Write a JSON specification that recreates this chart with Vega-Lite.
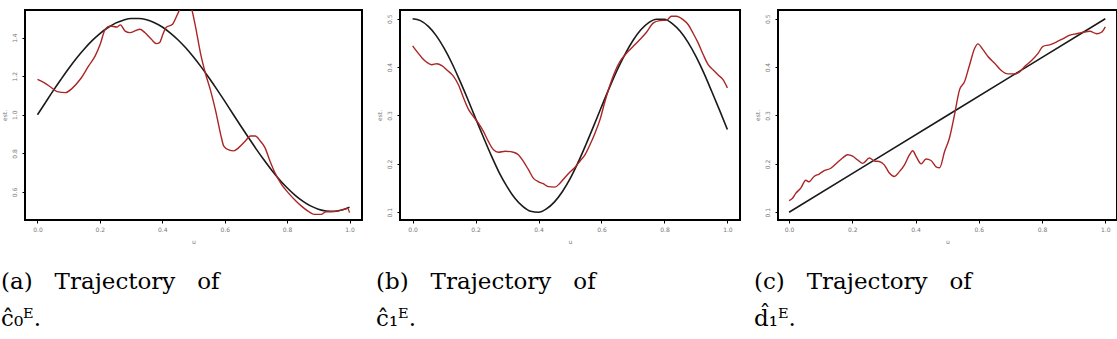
{
"$schema": "https://vega.github.io/schema/vega-lite/v6.json",
"padding": {"top": 9, "left": 0, "right": 0, "bottom": 0},
"background": "#ffffff",
"spacing": 12,
"datasets": {
"a_true": [{"u":0,"v":1.000},{"u":0.025,"v":1.062},{"u":0.05,"v":1.124},{"u":0.075,"v":1.183},{"u":0.1,"v":1.240},{"u":0.125,"v":1.293},{"u":0.15,"v":1.341},{"u":0.175,"v":1.384},{"u":0.2,"v":1.421},{"u":0.225,"v":1.451},{"u":0.25,"v":1.475},{"u":0.275,"v":1.490},{"u":0.3,"v":1.499},{"u":0.325,"v":1.499},{"u":0.35,"v":1.492},{"u":0.375,"v":1.477},{"u":0.4,"v":1.455},{"u":0.425,"v":1.425},{"u":0.45,"v":1.389},{"u":0.475,"v":1.347},{"u":0.5,"v":1.299},{"u":0.525,"v":1.247},{"u":0.55,"v":1.191},{"u":0.575,"v":1.132},{"u":0.6,"v":1.071},{"u":0.625,"v":1.008},{"u":0.65,"v":0.946},{"u":0.675,"v":0.885},{"u":0.7,"v":0.825},{"u":0.725,"v":0.768},{"u":0.75,"v":0.714},{"u":0.775,"v":0.665},{"u":0.8,"v":0.622},{"u":0.825,"v":0.584},{"u":0.85,"v":0.553},{"u":0.875,"v":0.528},{"u":0.9,"v":0.511},{"u":0.925,"v":0.502},{"u":0.95,"v":0.500},{"u":0.975,"v":0.507},{"u":1,"v":0.521}],
"a_est": [{"u":0,"v":1.184},{"u":0.021,"v":1.167},{"u":0.042,"v":1.144},{"u":0.063,"v":1.12},{"u":0.09,"v":1.115},{"u":0.111,"v":1.137},{"u":0.137,"v":1.184},{"u":0.164,"v":1.253},{"u":0.185,"v":1.305},{"u":0.201,"v":1.365},{"u":0.217,"v":1.443},{"u":0.233,"v":1.46},{"u":0.254,"v":1.455},{"u":0.266,"v":1.466},{"u":0.28,"v":1.435},{"u":0.296,"v":1.426},{"u":0.317,"v":1.438},{"u":0.328,"v":1.443},{"u":0.344,"v":1.426},{"u":0.365,"v":1.391},{"u":0.381,"v":1.369},{"u":0.391,"v":1.374},{"u":0.402,"v":1.417},{"u":0.412,"v":1.452},{"u":0.433,"v":1.469},{"u":0.444,"v":1.504},{"u":0.46,"v":1.56},{"u":0.475,"v":1.6},{"u":0.488,"v":1.58},{"u":0.495,"v":1.543},{"u":0.507,"v":1.452},{"u":0.523,"v":1.314},{"u":0.539,"v":1.21},{"u":0.555,"v":1.124},{"u":0.571,"v":1.02},{"u":0.587,"v":0.899},{"u":0.597,"v":0.838},{"u":0.613,"v":0.818},{"u":0.629,"v":0.813},{"u":0.645,"v":0.83},{"u":0.666,"v":0.864},{"u":0.682,"v":0.89},{"u":0.698,"v":0.89},{"u":0.714,"v":0.864},{"u":0.729,"v":0.83},{"u":0.745,"v":0.761},{"u":0.761,"v":0.7},{"u":0.782,"v":0.64},{"u":0.803,"v":0.597},{"u":0.825,"v":0.559},{"u":0.846,"v":0.527},{"u":0.867,"v":0.501},{"u":0.888,"v":0.484},{"u":0.909,"v":0.484},{"u":0.925,"v":0.498},{"u":0.941,"v":0.498},{"u":0.962,"v":0.501},{"u":0.983,"v":0.51},{"u":0.994,"v":0.515},{"u":1,"v":0.493}],
"b_true": [{"u":0,"v":0.500},{"u":0.025,"v":0.496},{"u":0.05,"v":0.484},{"u":0.075,"v":0.465},{"u":0.1,"v":0.439},{"u":0.125,"v":0.408},{"u":0.15,"v":0.372},{"u":0.175,"v":0.334},{"u":0.2,"v":0.294},{"u":0.225,"v":0.255},{"u":0.25,"v":0.217},{"u":0.275,"v":0.182},{"u":0.3,"v":0.153},{"u":0.325,"v":0.129},{"u":0.35,"v":0.112},{"u":0.375,"v":0.102},{"u":0.4,"v":0.100},{"u":0.425,"v":0.107},{"u":0.45,"v":0.121},{"u":0.475,"v":0.142},{"u":0.5,"v":0.169},{"u":0.525,"v":0.202},{"u":0.55,"v":0.239},{"u":0.575,"v":0.278},{"u":0.6,"v":0.318},{"u":0.625,"v":0.357},{"u":0.65,"v":0.394},{"u":0.675,"v":0.427},{"u":0.7,"v":0.455},{"u":0.725,"v":0.477},{"u":0.75,"v":0.492},{"u":0.775,"v":0.499},{"u":0.8,"v":0.499},{"u":0.825,"v":0.490},{"u":0.85,"v":0.474},{"u":0.875,"v":0.451},{"u":0.9,"v":0.422},{"u":0.925,"v":0.388},{"u":0.95,"v":0.350},{"u":0.975,"v":0.311},{"u":1,"v":0.271}],
"b_est": [{"u":0,"v":0.444},{"u":0.014,"v":0.432},{"u":0.03,"v":0.419},{"u":0.045,"v":0.41},{"u":0.061,"v":0.405},{"u":0.077,"v":0.407},{"u":0.093,"v":0.403},{"u":0.109,"v":0.394},{"u":0.13,"v":0.381},{"u":0.146,"v":0.363},{"u":0.162,"v":0.336},{"u":0.178,"v":0.312},{"u":0.193,"v":0.298},{"u":0.209,"v":0.284},{"u":0.225,"v":0.267},{"u":0.241,"v":0.246},{"u":0.257,"v":0.229},{"u":0.273,"v":0.224},{"u":0.294,"v":0.226},{"u":0.32,"v":0.224},{"u":0.336,"v":0.219},{"u":0.352,"v":0.205},{"u":0.368,"v":0.188},{"u":0.384,"v":0.17},{"u":0.4,"v":0.163},{"u":0.415,"v":0.159},{"u":0.431,"v":0.153},{"u":0.452,"v":0.152},{"u":0.468,"v":0.16},{"u":0.484,"v":0.172},{"u":0.5,"v":0.183},{"u":0.516,"v":0.193},{"u":0.532,"v":0.206},{"u":0.548,"v":0.219},{"u":0.563,"v":0.239},{"u":0.579,"v":0.263},{"u":0.595,"v":0.291},{"u":0.611,"v":0.329},{"u":0.627,"v":0.363},{"u":0.643,"v":0.391},{"u":0.659,"v":0.412},{"u":0.68,"v":0.429},{"u":0.701,"v":0.443},{"u":0.722,"v":0.457},{"u":0.743,"v":0.472},{"u":0.764,"v":0.491},{"u":0.785,"v":0.496},{"u":0.807,"v":0.497},{"u":0.822,"v":0.505},{"u":0.838,"v":0.505},{"u":0.859,"v":0.498},{"u":0.875,"v":0.488},{"u":0.891,"v":0.47},{"u":0.907,"v":0.45},{"u":0.923,"v":0.426},{"u":0.939,"v":0.405},{"u":0.955,"v":0.394},{"u":0.97,"v":0.384},{"u":0.986,"v":0.374},{"u":1,"v":0.357}],
"c_true": [{"u":0,"v":0.1},{"u":0.25,"v":0.2},{"u":0.5,"v":0.3},{"u":0.75,"v":0.4},{"u":1,"v":0.5}],
"c_est": [{"u":0,"v":0.124},{"u":0.011,"v":0.129},{"u":0.021,"v":0.139},{"u":0.037,"v":0.15},{"u":0.053,"v":0.166},{"u":0.063,"v":0.163},{"u":0.079,"v":0.174},{"u":0.095,"v":0.179},{"u":0.111,"v":0.186},{"u":0.132,"v":0.191},{"u":0.153,"v":0.203},{"u":0.169,"v":0.212},{"u":0.185,"v":0.219},{"u":0.201,"v":0.216},{"u":0.217,"v":0.208},{"u":0.233,"v":0.201},{"u":0.254,"v":0.212},{"u":0.27,"v":0.206},{"u":0.285,"v":0.205},{"u":0.301,"v":0.198},{"u":0.317,"v":0.181},{"u":0.333,"v":0.174},{"u":0.349,"v":0.184},{"u":0.365,"v":0.198},{"u":0.381,"v":0.219},{"u":0.391,"v":0.227},{"u":0.402,"v":0.215},{"u":0.418,"v":0.2},{"u":0.433,"v":0.21},{"u":0.449,"v":0.207},{"u":0.465,"v":0.194},{"u":0.476,"v":0.192},{"u":0.492,"v":0.226},{"u":0.507,"v":0.253},{"u":0.523,"v":0.301},{"u":0.539,"v":0.353},{"u":0.555,"v":0.37},{"u":0.571,"v":0.405},{"u":0.587,"v":0.439},{"u":0.597,"v":0.448},{"u":0.613,"v":0.436},{"u":0.629,"v":0.422},{"u":0.65,"v":0.408},{"u":0.671,"v":0.393},{"u":0.692,"v":0.386},{"u":0.714,"v":0.386},{"u":0.729,"v":0.39},{"u":0.745,"v":0.401},{"u":0.766,"v":0.413},{"u":0.788,"v":0.429},{"u":0.803,"v":0.443},{"u":0.824,"v":0.446},{"u":0.846,"v":0.452},{"u":0.867,"v":0.459},{"u":0.888,"v":0.466},{"u":0.909,"v":0.469},{"u":0.93,"v":0.472},{"u":0.951,"v":0.474},{"u":0.973,"v":0.469},{"u":0.988,"v":0.472},{"u":1,"v":0.483}]
},
"hconcat": [
{
"width": 337, "height": 210,
"title": {"text": ["(a)\u00a0\u00a0\u00a0Trajectory\u00a0\u00a0\u00a0of", "ĉ₀ᴱ."]},
"encoding": {
 "x": {"field": "u", "type": "quantitative", "scale": {"domain": [-0.04, 1.04], "nice": false, "zero": false}, "axis": {"values": [0, 0.2, 0.4, 0.6, 0.8, 1], "format": ".1f", "title": "u"}},
 "y": {"field": "v", "type": "quantitative", "scale": {"domain": [0.455, 1.543], "nice": false, "zero": false}, "axis": {"values": [0.6, 0.8, 1.0, 1.2, 1.4], "format": ".1f", "title": "est."}}
},
"layer": [
 {"data": {"name": "a_true"}, "mark": {"type": "line", "color": "#1a1a1a", "strokeWidth": 1.6, "clip": true, "interpolate": "monotone"}},
 {"data": {"name": "a_est"}, "mark": {"type": "line", "color": "#ab2525", "strokeWidth": 1.4, "clip": true, "interpolate": "monotone"}}
]
},
{
"width": 340, "height": 210,
"title": {"text": ["(b)\u00a0\u00a0\u00a0Trajectory\u00a0\u00a0\u00a0of", "ĉ₁ᴱ."]},
"encoding": {
 "x": {"field": "u", "type": "quantitative", "scale": {"domain": [-0.04, 1.04], "nice": false, "zero": false}, "axis": {"values": [0, 0.2, 0.4, 0.6, 0.8, 1], "format": ".1f", "title": "u"}},
 "y": {"field": "v", "type": "quantitative", "scale": {"domain": [0.084, 0.518], "nice": false, "zero": false}, "axis": {"values": [0.1, 0.2, 0.3, 0.4, 0.5], "format": ".1f", "title": "est."}}
},
"layer": [
 {"data": {"name": "b_true"}, "mark": {"type": "line", "color": "#1a1a1a", "strokeWidth": 1.6, "clip": true, "interpolate": "monotone"}},
 {"data": {"name": "b_est"}, "mark": {"type": "line", "color": "#ab2525", "strokeWidth": 1.4, "clip": true, "interpolate": "monotone"}}
]
},
{
"width": 339, "height": 210,
"title": {"text": ["(c)\u00a0\u00a0\u00a0Trajectory\u00a0\u00a0\u00a0of", "d̂₁ᴱ."]},
"encoding": {
 "x": {"field": "u", "type": "quantitative", "scale": {"domain": [-0.035, 1.037], "nice": false, "zero": false}, "axis": {"values": [0, 0.2, 0.4, 0.6, 0.8, 1], "format": ".1f", "title": "u"}},
 "y": {"field": "v", "type": "quantitative", "scale": {"domain": [0.084, 0.518], "nice": false, "zero": false}, "axis": {"values": [0.1, 0.2, 0.3, 0.4, 0.5], "format": ".1f", "title": "est."}}
},
"layer": [
 {"data": {"name": "c_true"}, "mark": {"type": "line", "color": "#1a1a1a", "strokeWidth": 1.6, "clip": true}},
 {"data": {"name": "c_est"}, "mark": {"type": "line", "color": "#ab2525", "strokeWidth": 1.4, "clip": true, "interpolate": "monotone"}}
]
}
],
"config": {
 "view": {"stroke": "#000000", "strokeWidth": 2},
 "axis": {"domain": false, "grid": false, "tickColor": "#000000", "tickSize": 3, "tickWidth": 1, "labelFont": "DejaVu Sans", "labelFontSize": 6, "labelColor": "#777777", "labelOverlap": false, "titleFont": "DejaVu Sans", "titleFontSize": 6, "titleFontWeight": "normal", "titleColor": "#777777"},
 "axisX": {"labelPadding": 3, "titlePadding": 6, "labelFlush": false},
 "axisY": {"labelAngle": 270, "labelAlign": "center", "labelBaseline": "bottom", "labelPadding": 5, "titlePadding": 4},
 "title": {"orient": "bottom", "anchor": "start", "frame": "bounds", "font": "DejaVu Serif", "fontSize": 23, "fontWeight": "normal", "color": "#000000", "offset": 27, "lineHeight": 37}
}
}
